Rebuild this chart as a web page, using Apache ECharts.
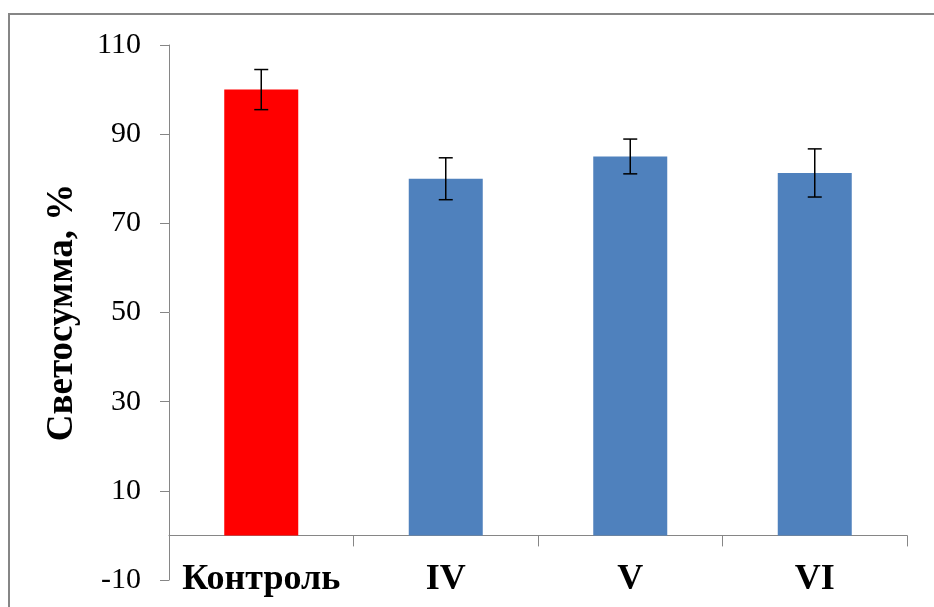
<!DOCTYPE html>
<html>
<head>
<meta charset="utf-8">
<style>
html,body{margin:0;padding:0;background:#fff;}
#chart{width:934px;height:607px;}
</style>
<script src="https://cdn.jsdelivr.net/npm/echarts@6/dist/echarts.min.js"></script>
</head>
<body>
<div id="chart"></div>
<script>
const categories = ['Контроль', 'IV', 'V', 'VI'];
const values = [100, 80, 85, 81.3];
const errors = [4.5, 4.7, 3.9, 5.4];
const barColors = ['#FF0000', '#4F81BD', '#4F81BD', '#4F81BD'];
const yTicks = {min: -10, max: 110, interval: 20};

const chart = echarts.init(document.getElementById('chart'));
const serif = '"Liberation Serif", "Times New Roman", serif';

chart.setOption({
  animation: false,
  backgroundColor: '#fff',
  graphic: [{
    type: 'rect',
    shape: {x: 9, y: 14, width: 960, height: 640},
    style: {fill: 'none', stroke: '#868686', lineWidth: 2},
    silent: true
  }],
  grid: {left: 169, right: 27, top: 45, bottom: 27, outerBoundsMode: 'none'},
  xAxis: {
    type: 'category',
    data: categories,
    axisLine: {onZero: true, lineStyle: {color: '#868686', width: 1}},
    axisTick: {show: true, alignWithLabel: false, interval: 0, length: 11, lineStyle: {color: '#868686'}},
    axisLabel: {
      show: true, interval: 0, margin: -18,
      fontFamily: serif, fontWeight: 'bold', fontSize: 36, color: '#000'
    },
    splitLine: {show: false}
  },
  yAxis: {
    type: 'value',
    min: yTicks.min, max: yTicks.max, interval: yTicks.interval,
    name: 'Светосумма, %',
    nameLocation: 'middle',
    nameGap: 88,
    nameRotate: 90,
    nameTextStyle: {fontFamily: serif, fontWeight: 'bold', fontSize: 37, color: '#000'},
    axisLine: {show: true, onZero: false, lineStyle: {color: '#868686', width: 1}},
    axisTick: {show: true, length: 9, lineStyle: {color: '#868686'}},
    axisLabel: {margin: 28, fontFamily: serif, fontSize: 30, color: '#000'},
    splitLine: {show: false}
  },
  series: [{
    type: 'bar',
    data: values.map((v, i) => ({value: v, itemStyle: {color: barColors[i]}})),
    barWidth: 74
  }, {
    type: 'custom',
    data: values.map((v, i) => [i, v - errors[i], v + errors[i]]),
    renderItem: function (params, api) {
      const x = api.value(0);
      const lo = api.coord([x, api.value(1)]);
      const hi = api.coord([x, api.value(2)]);
      const hw = 7;
      const style = {stroke: '#000', lineWidth: 1.5};
      return {
        type: 'group',
        children: [
          {type: 'line', shape: {x1: hi[0], y1: hi[1], x2: lo[0], y2: lo[1]}, style: style},
          {type: 'line', shape: {x1: hi[0] - hw, y1: hi[1], x2: hi[0] + hw, y2: hi[1]}, style: style},
          {type: 'line', shape: {x1: lo[0] - hw, y1: lo[1], x2: lo[0] + hw, y2: lo[1]}, style: style}
        ]
      };
    },
    z: 5
  }]
});
</script>
</body>
</html>
